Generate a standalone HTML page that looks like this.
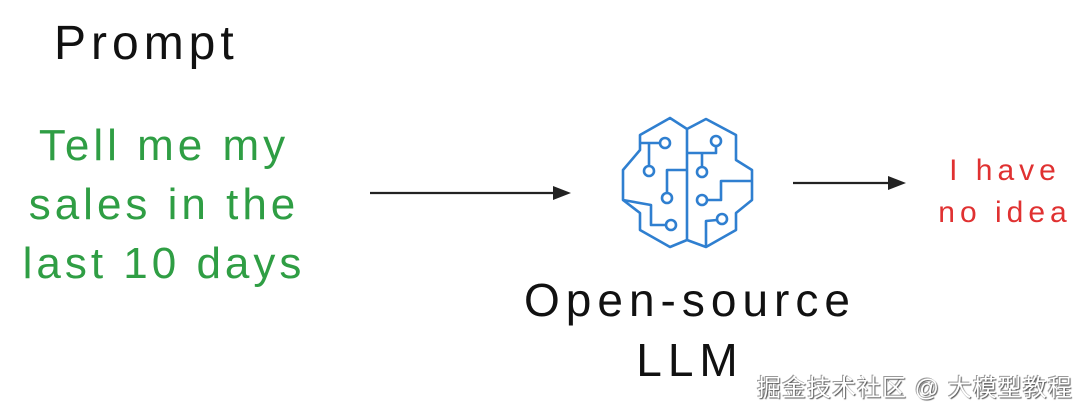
<!DOCTYPE html>
<html><head><meta charset="utf-8"><style>
html,body{margin:0;padding:0;background:#fff;}
body{width:1080px;height:411px;position:relative;overflow:hidden;font-family:"Liberation Sans",sans-serif;}
.t{position:absolute;white-space:nowrap;text-align:center;}
</style></head><body>
<div class="t" style="left:54px;top:16px;font-size:48px;letter-spacing:5px;color:#111;">Prompt</div>
<div class="t" style="left:0;width:328px;top:116px;font-size:44px;line-height:59px;letter-spacing:4px;color:#2f9e44;">Tell me my<br>sales in the<br>last 10 days</div>
<svg width="1080" height="411" style="position:absolute;left:0;top:0">
<g stroke="#222" stroke-width="2.2" fill="#222">
<line x1="370" y1="193" x2="560" y2="193"/><polygon points="571,193 553,186 553,200" stroke="none"/>
<line x1="793" y1="183" x2="895" y2="183"/><polygon points="906,183 888,176 888,190" stroke="none"/>
</g>
<g stroke="#2f7fd0" stroke-width="2.6" fill="none" stroke-linejoin="round">
<polyline points="687,240 670,247 640,230 640,213 623,200 623,170 640,150 640,135 670,118 687,129 706,119 736,135 736,160 752,170 752,200 736,213 736,230 706,247 687,240 687,129"/>
<polyline points="640,143 660,143"/><polyline points="649,143 649,166"/>
<polyline points="667,193 667,170 687,170"/>
<polyline points="623,200 651,205 651,225 666,225"/>
<polyline points="716,146 716,153 687,153"/><polyline points="702,167 702,153"/>
<polyline points="752,181 721,181 721,200 707,200"/>
<polyline points="717,220 706,221 706,247"/>
<circle cx="665" cy="143" r="5"/><circle cx="649" cy="171" r="5"/><circle cx="667" cy="198" r="5"/><circle cx="671" cy="225" r="5"/>
<circle cx="716" cy="141" r="5"/><circle cx="702" cy="172" r="5"/><circle cx="702" cy="200" r="5"/><circle cx="722" cy="219" r="5"/>
</g>
</svg>
<div class="t" style="left:490px;width:400px;top:270px;font-size:46px;line-height:60px;letter-spacing:6px;color:#111;">Open-source<br>LLM</div>
<div class="t" style="left:930px;width:150px;top:150px;font-size:30px;line-height:42px;letter-spacing:5px;color:#e03131;">I have<br>no idea</div>
<div class="t" style="left:757px;top:368px;font-size:24px;letter-spacing:1px;color:#fff;text-shadow:1px 1px 1px #555,-1px -1px 0 #999;font-family:'Liberation Sans','Noto Sans CJK SC',sans-serif;">掘金技术社区 @ 大模型教程</div>
</body></html>
